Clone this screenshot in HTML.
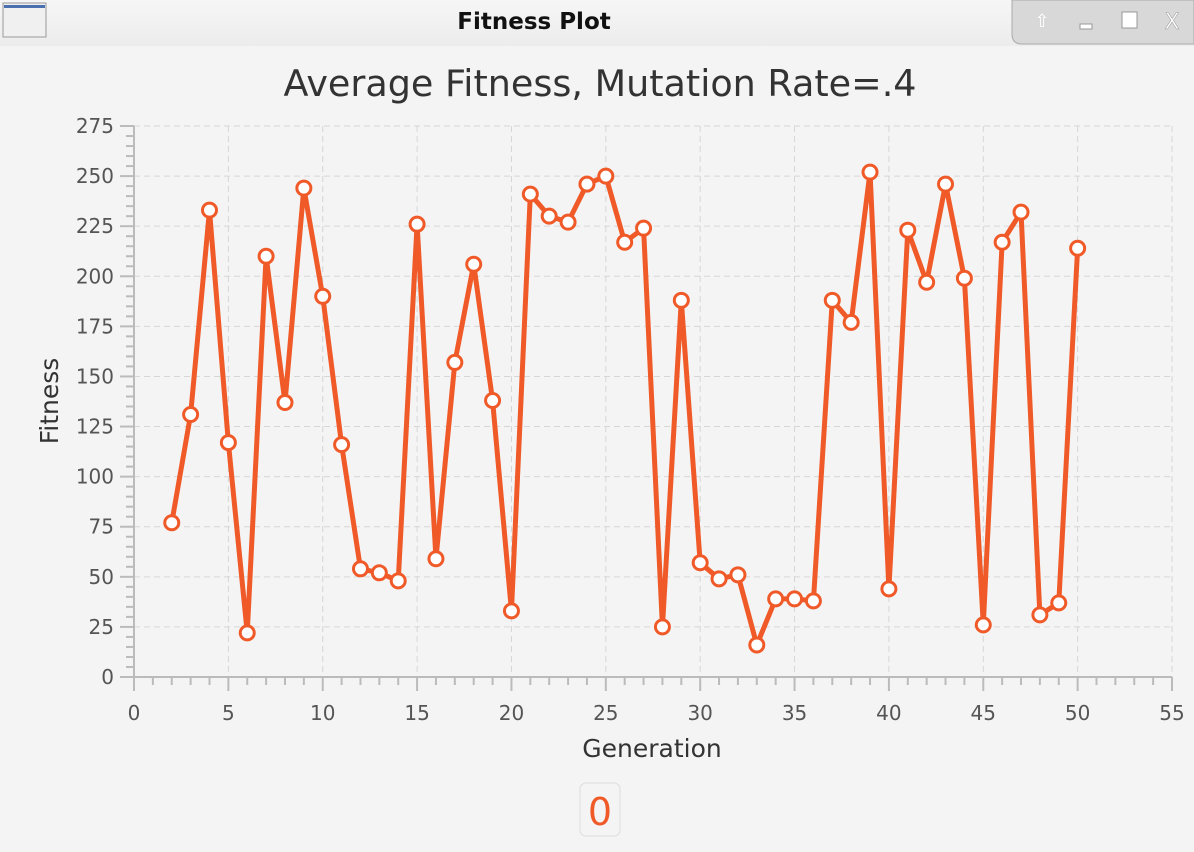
<!DOCTYPE html>
<html><head><meta charset="utf-8"><style>
body{margin:0;width:1194px;height:848px;background:#f4f4f4;font-family:"DejaVu Sans","Liberation Sans",sans-serif;overflow:hidden}
</style></head><body>
<svg width="1194" height="848" xmlns="http://www.w3.org/2000/svg">
<defs><linearGradient id="tb" x1="0" y1="0" x2="0" y2="1"><stop offset="0" stop-color="#f6f6f6"/><stop offset="1" stop-color="#ececec"/></linearGradient></defs>
<rect x="0" y="0" width="1194" height="46" fill="url(#tb)"/>
<rect x="3" y="3" width="43" height="34" fill="#f0f0f0" stroke="#999"/>
<rect x="4" y="5" width="41" height="3" fill="#4a70b0"/>
<text x="534" y="29" font-size="23" font-weight="bold" text-anchor="middle" fill="#111">Fitness Plot</text>
<path d="M1012,0 H1194 V44 H1022 Q1012,44 1012,34 Z" fill="#d8d8d8" stroke="#aaa"/>
<text x="1042" y="27" font-size="18" fill="#fff" text-anchor="middle">⇧</text>
<rect x="1080" y="24" width="12" height="5" fill="#fff" stroke="#999"/>
<rect x="1122" y="12" width="15" height="16" fill="#fff" stroke="#999"/>
<text x="1172" y="29" font-size="22" fill="#fff" stroke="#999" stroke-width="0.5" text-anchor="middle">X</text>
<text x="600" y="96" font-size="36.5" fill="#333" text-anchor="middle">Average Fitness, Mutation Rate=.4</text>
<g id="plot"></g>
<text x="652" y="757" font-size="25" fill="#333" text-anchor="middle">Generation</text>
<text x="58" y="401" font-size="25" fill="#333" text-anchor="middle" transform="rotate(-90 58 401)">Fitness</text>
<rect x="580" y="783" width="40" height="53" rx="6" fill="#f4f4f4" stroke="#ddd"/>
<text x="600" y="825" font-size="38" fill="#f05a28" text-anchor="middle">0</text>
</svg>
<script>
const generations=[2,3,4,5,6,7,8,9,10,11,12,13,14,15,16,17,18,19,20,21,22,23,24,25,26,27,28,29,30,31,32,33,34,35,36,37,38,39,40,41,42,43,44,45,46,47,48,49,50];
const fitness=[77,131,233,117,22,210,137,244,190,116,54,52,48,226,59,157,206,138,33,241,230,227,246,250,217,224,25,188,57,49,51,16,39,39,38,188,177,252,44,223,197,246,199,26,217,232,31,37,214];
const xTicks=[0,5,10,15,20,25,30,35,40,45,50,55];
const yTicks=[0,25,50,75,100,125,150,175,200,225,250,275];
const NS="http://www.w3.org/2000/svg";
const X0=134,X1=1172,Y0=677,Y1=126;
const sx=v=>X0+(v-0)/(55-0)*(X1-X0);
const sy=v=>Y0-(v-0)/(275-0)*(Y0-Y1);
const g=document.getElementById('plot');
function mk(t,a){const e=document.createElementNS(NS,t);for(const k in a)e.setAttribute(k,a[k]);g.appendChild(e);return e;}
xTicks.forEach(t=>{
 if(t>0){const l=mk('line',{x1:sx(t),x2:sx(t),y1:Y1,y2:Y0,stroke:'#d6d6d6','stroke-dasharray':'6,4'});
 
 }
 mk('line',{x1:sx(t),x2:sx(t),y1:Y0,y2:Y0+14,stroke:'#bbb','stroke-width':2});
 const tx=mk('text',{x:sx(t),y:Y0+43,'font-size':20,fill:'#555','text-anchor':'middle'});tx.textContent=t;
 
 
});
for(let m=1;m<55;m++){if(m%5)mk('line',{x1:sx(m),x2:sx(m),y1:Y0,y2:Y0+8,stroke:'#bbb','stroke-width':2});}
yTicks.forEach(t=>{
 if(t>0){const l=mk('line',{x1:X0,x2:X1,y1:sy(t),y2:sy(t),stroke:'#d6d6d6','stroke-dasharray':'6,4'});
 
 }
 mk('line',{x1:X0-14,x2:X0,y1:sy(t),y2:sy(t),stroke:'#bbb','stroke-width':2});
 const tx=mk('text',{x:X0-20,y:sy(t)+7,'font-size':20,fill:'#555','text-anchor':'end'});tx.textContent=t;
 
 
});
for(let m=5;m<275;m+=5){if(m%25)mk('line',{x1:X0-8,x2:X0,y1:sy(m),y2:sy(m),stroke:'#bbb','stroke-width':2});}
mk('line',{x1:X0,x2:X1,y1:Y0,y2:Y0,stroke:'#bbb','stroke-width':2});
mk('line',{x1:X0,x2:X0,y1:Y1,y2:Y0,stroke:'#bbb','stroke-width':2});
const pl=mk('polyline',{points:generations.map((v,i)=>sx(v)+','+sy(fitness[i])).join(' '),fill:'none',stroke:'#f05a28','stroke-width':5,'stroke-linejoin':'round'});


generations.forEach((v,i)=>{
 const c=mk('circle',{cx:sx(v),cy:sy(fitness[i]),r:7,fill:'#fff',stroke:'#f05a28','stroke-width':3});
 
 
});
</script>
</body></html>
